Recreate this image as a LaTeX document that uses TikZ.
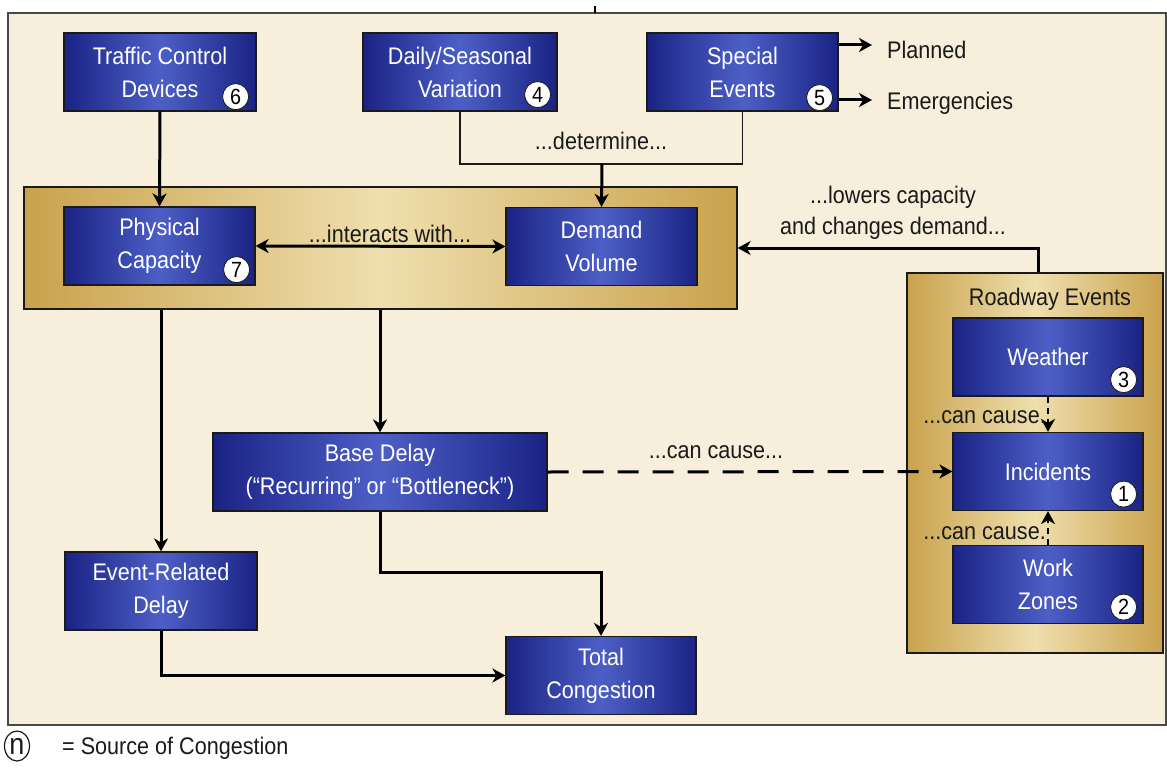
\documentclass[tikz,border=0pt]{standalone}
\usepackage{fontspec}
\setsansfont{Liberation Sans}[FakeStretch=0.9]
\usetikzlibrary{arrows.meta,calc,shapes.geometric}
\definecolor{cream}{HTML}{F7EFDC}
\definecolor{navyD}{HTML}{1A2384}
\definecolor{navyL}{HTML}{4D5FC6}
\definecolor{goldD}{HTML}{C9A24C}
\definecolor{goldL}{HTML}{EFDFAE}
\definecolor{ink}{HTML}{1A1A1A}
\newcommand\boxfont{\sffamily\fontsize{24}{33}\selectfont}
\newcommand\lblfont{\sffamily\fontsize{24}{31}\selectfont}
\tikzset{
  bluebox/.style={draw=ink, line width=1.2pt, left color=navyD, right color=navyD, middle color=navyL,
    text=white, font=\boxfont, align=center, minimum width=192pt, minimum height=78pt, inner sep=0pt},
  goldbox/.style={draw=ink, line width=1.2pt, left color=goldD, right color=goldD, middle color=goldL, inner sep=0pt},
  badge/.style={circle, draw=ink, line width=0.8pt, fill=white, text=black, inner sep=0pt, minimum size=26pt,
    font=\sffamily\fontsize{22}{22}\selectfont},
  lbl/.style={text=ink, font=\lblfont, inner sep=0pt, align=center},
  conn/.style={line width=3pt, draw=black, -{Stealth[length=13pt,width=14pt,inset=4pt]}},
  biconn/.style={line width=3pt, draw=black, {Stealth[length=13pt,width=14pt,inset=4pt]}-{Stealth[length=13pt,width=14pt,inset=4pt]}},
  thinline/.style={line width=1.5pt, draw=ink},
  dconn/.style={conn, dash pattern=on 21pt off 14pt},
  sdconn/.style={conn, line width=2.6pt, dash pattern=on 6pt off 5pt},
  frame/.style={draw=ink!80, line width=2pt}
}
\begin{document}
\begin{tikzpicture}[x=1pt,y=-1pt]
\useasboundingbox (0,0) rectangle (1167,781);
\fill[white] (0,0) rectangle (1167,781);
\draw[frame, fill=cream] (8,13) rectangle (1166,725);
\draw[line width=2pt] (595,6) -- (595,13);

% containers
\node[goldbox, minimum width=713pt, minimum height=122pt] (cap) at (380.5,248) {};
\node[goldbox, minimum width=256pt, minimum height=380pt] (road) at (1035,463) {};
\node[lbl] (roadlbl) at (1050,299) {Roadway Events};

% boxes
\node[bluebox] (tcd) at (160,72) {Traffic Control\\Devices};
\node[bluebox, minimum width=194pt] (dsv) at (460,72) {Daily/Seasonal\\Variation};
\node[bluebox, minimum width=191pt] (spe) at (742.5,72) {Special\\Events};
\node[bluebox, minimum width=191pt] (phys) at (159.5,246) {Physical\\Capacity};
\node[bluebox, minimum width=191pt] (dem) at (601.5,246.5) {Demand\\Volume};
\node[bluebox, minimum width=334pt] (base) at (380,472) {Base Delay\\(“Recurring” or “Bottleneck”)};
\node[bluebox] (evt) at (161,591) {Event-Related\\Delay};
\node[bluebox, minimum width=190pt] (tot) at (601,675.5) {Total\\Congestion};
\node[bluebox, minimum width=190pt] (wea) at (1048,357) {Weather};
\node[bluebox, minimum width=190pt] (inc) at (1048,471.5) {Incidents};
\node[bluebox, minimum width=190pt] (wz) at (1048,584.5) {Work\\Zones};

% badges
\node[badge] (b6) at ($(tcd.south east)+(-21,-15)$) {6};
\node[badge] (b4) at ($(dsv.south east)+(-20,-17)$) {4};
\node[badge] (b5) at ($(spe.south east)+(-19,-14)$) {5};
\node[badge] (b7) at ($(phys.south east)+(-19,-16)$) {7};
\node[badge] (b3) at ($(wea.south east)+(-20,-17)$) {3};
\node[badge] (b1) at ($(inc.south east)+(-20,-17)$) {1};
\node[badge] (b2) at ($(wz.south east)+(-20,-17)$) {2};

% top connectors
\draw[conn] (tcd.south) -- (phys.north);
\coordinate (detm) at (602,164);
\draw[thinline] (dsv.south) |- (detm) -| (spe.south);
\draw[conn] (detm) -- (dem.north);
\node[lbl] (detlbl) at (601,141) {...determine...};

\node[lbl, anchor=west] (plan) at (887,50) {Planned};
\node[lbl, anchor=west] (emer) at (887,103) {Emergencies};
\coordinate (planT) at (872,45);
\coordinate (emerT) at (872,100);
\draw[conn] (spe.east |- planT) -- (planT);
\draw[conn] (spe.east |- emerT) -- (emerT);

% middle
\draw[biconn] (phys.east) -- (dem.west);
\node[lbl] (intlbl) at (390,234) {...interacts with...};
\coordinate (lowK) at (1038,248);
\draw[conn] (road.north -| lowK) |- (cap.east);
\node[lbl] (lowlbl) at (893,213) {...lowers capacity\\and changes demand...};

\draw[conn] (cap.south -| base.north) -- (base.north);
\draw[conn] (cap.south -| evt.north) -- (evt.north);

\draw[dconn] (base.east) -- (inc.west);
\node[lbl] (cclbl) at (716,452) {...can cause...};

\draw[conn] (base.south) |- ($(tot.north)+(0,-63)$) -- (tot.north);
\draw[conn] (evt.south) |- (tot.west);

\draw[sdconn] (wea.south) -- (inc.north);
\draw[sdconn] (wz.north) -- (inc.south);
\node[lbl, anchor=east] (cc1) at (1046,417) {...can cause.};
\node[lbl, anchor=east] (cc2) at (1046,533) {...can cause.};

% legend
\node[ellipse, draw=ink, line width=1.2pt, inner sep=0pt, minimum width=25pt, minimum height=30pt, text=ink,
  font=\sffamily\fontsize{27}{27}\selectfont] (leg) at (17,746) {};
\node[text=ink, inner sep=0pt, font=\sffamily\fontsize{30}{30}\selectfont] (legn) at (leg.center) {n};
\node[lbl, anchor=west] (legtxt) at (62,748) {= Source of Congestion};
\end{tikzpicture}
\end{document}
